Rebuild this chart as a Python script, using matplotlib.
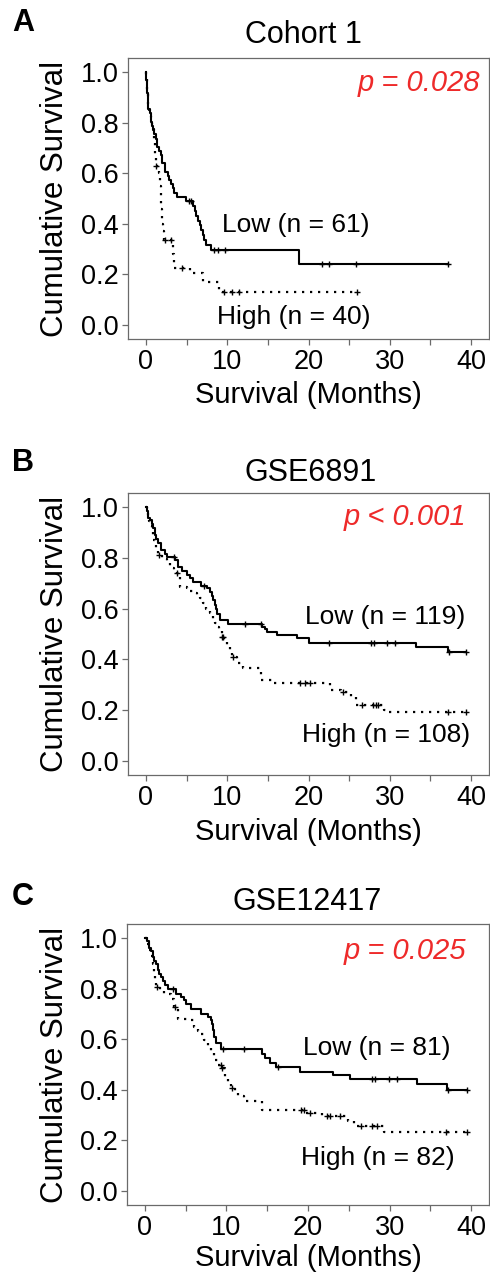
"""
Kaplan-Meier curves for three cohorts (low vs high expression groups).
"""

import numpy as np
import matplotlib
matplotlib.use("Agg")
import matplotlib.pyplot as plt

plt.rcParams['font.family'] = ['Liberation Sans', 'DejaVu Sans']

# ---- panel A : Cohort 1 ----
t_low_A = [0, 0.05, 0.1, 0.15, 0.2, 0.3, 0.45, 0.6, 0.75, 0.9, 1.0, 1.2, 1.4, 1.6, 1.8,
           2.0, 2.3, 2.75, 2.9, 3.1, 3.3, 3.5, 3.85, 4.95, 5.8, 6.0, 6.2, 6.4, 6.6,
           6.8, 7.0, 7.2, 7.4, 8.0, 18.85]
s_low_A = [1.0, 0.967, 0.934, 0.918, 0.885, 0.852, 0.836, 0.803, 0.787, 0.770, 0.754, 0.737,
           0.705, 0.688, 0.672, 0.639, 0.606, 0.589, 0.573, 0.556, 0.540, 0.523, 0.507, 0.489,
           0.470, 0.451, 0.432, 0.413, 0.394, 0.375, 0.356, 0.337, 0.318, 0.296, 0.241]
c_low_A = [5.3, 5.6, 8.4, 8.9, 9.7, 21.7, 22.5, 25.8, 37.2]

t_high_A = [0, 0.05, 0.1, 0.15, 0.2, 0.3, 0.4, 0.5, 0.65, 0.8, 0.95, 1.05, 1.1, 1.15, 1.2,
            1.6, 1.7, 1.75, 1.8, 1.85, 1.9, 1.95, 2.0, 2.1, 2.2, 3.3, 3.4, 5.4, 7.0, 9.05]
s_high_A = [1.0, 0.975, 0.95, 0.925, 0.90, 0.875, 0.85, 0.825, 0.80, 0.775, 0.75, 0.725,
            0.70, 0.675, 0.63, 0.60, 0.575, 0.55, 0.52, 0.49, 0.46, 0.43, 0.40, 0.37, 0.336,
            0.28, 0.225, 0.204, 0.171, 0.132]
c_high_A = [1.3, 2.4, 3.1, 4.5, 9.6, 10.6, 11.4, 26.0]

# ---- panel B : GSE6891 ----
t_low_B = [0, 0.1, 0.2, 0.3, 0.5, 0.7, 0.9, 1.1, 1.3, 1.5, 1.9, 2.3, 2.55, 3.6, 4.0,
           4.5, 5.0, 5.4, 5.8, 6.8, 7.5, 7.9, 8.1, 8.3, 8.45, 8.6, 8.75, 9.1, 10.1, 14.3,
           14.6, 14.9, 16.1, 18.6, 20.0, 33.2, 37.1]
s_low_B = [1.0, 0.983, 0.966, 0.958, 0.949, 0.933, 0.916, 0.891, 0.874, 0.857, 0.83, 0.815,
           0.804, 0.79, 0.765, 0.748, 0.732, 0.72, 0.706, 0.69, 0.68, 0.667, 0.65, 0.634,
           0.615, 0.597, 0.58, 0.555, 0.54, 0.526, 0.518, 0.509, 0.496, 0.483, 0.466, 0.45,
           0.43]
c_low_B = [3.4, 7.2, 12.2, 14.2, 22.5, 27.7, 28.1, 29.7, 30.7, 37.3, 39.4]

t_high_B = [0, 0.1, 0.2, 0.35, 0.5, 0.7, 0.9, 1.1, 1.3, 1.5, 2.0, 2.55, 3.0, 3.4, 3.79,
            4.2, 5.0, 5.4, 5.8, 6.26, 6.6, 7.07, 7.4, 7.9, 8.2, 8.5, 8.7, 9.0, 9.3, 9.6,
            9.96, 10.3, 10.6, 11.2, 12.0, 14.1, 15.7, 22.7, 24.0, 25.2, 25.8, 29.3, 29.7]
s_high_B = [1.0, 0.981, 0.963, 0.944, 0.926, 0.907, 0.87, 0.852, 0.833, 0.811, 0.795, 0.778,
            0.76, 0.75, 0.739, 0.686, 0.68, 0.67, 0.66, 0.65, 0.64, 0.621, 0.60, 0.581, 0.56,
            0.545, 0.529, 0.51, 0.489, 0.47, 0.45, 0.43, 0.41, 0.385, 0.365, 0.319, 0.306,
            0.28, 0.27, 0.253, 0.22, 0.20, 0.194]
c_high_B = [1.6, 3.85, 9.35, 9.5, 10.7, 19.0, 19.6, 20.2, 24.2, 26.6, 27.9, 28.3, 28.6,
            37.1, 39.4]

# ---- panel C : GSE12417 ----
t_low_C = [0, 0.2, 0.53, 0.7, 0.94, 1.1, 1.35, 1.55, 1.76, 2.0, 2.18, 2.5, 2.79, 3.8, 4.43,
           4.8, 5.05, 5.66, 6.9, 7.7, 8.1, 8.2, 8.3, 8.5, 8.7, 9.35, 14.3, 14.7, 15.3, 16.1,
           19.0, 23.1, 25.1, 33.4, 37.0]
s_low_C = [1.0, 0.988, 0.962, 0.95, 0.923, 0.91, 0.897, 0.872, 0.858, 0.845, 0.831, 0.815,
           0.80, 0.779, 0.766, 0.753, 0.74, 0.72, 0.70, 0.687, 0.675, 0.66, 0.635, 0.61,
           0.583, 0.563, 0.543, 0.524, 0.505, 0.491, 0.472, 0.459, 0.443, 0.422, 0.40]
c_low_C = [3.4, 9.6, 12.2, 16.3, 27.8, 28.2, 29.9, 30.9, 37.2, 39.5]

t_high_C = [0, 0.2, 0.5, 0.7, 0.94, 1.1, 1.2, 1.35, 1.8, 2.38, 3.2, 3.6, 4.1, 5.45, 6.07,
            6.5, 6.9, 7.3, 7.7, 8.1, 8.5, 8.9, 9.35, 9.76, 10.2, 10.6, 11.0, 11.4, 12.2,
            14.3, 19.8, 21.7, 24.9, 25.6, 29.3]
s_high_C = [1.0, 0.975, 0.951, 0.927, 0.897, 0.86, 0.83, 0.805, 0.79, 0.779, 0.76, 0.727,
            0.681, 0.675, 0.65, 0.634, 0.622, 0.598, 0.57, 0.545, 0.518, 0.50, 0.485, 0.452,
            0.43, 0.407, 0.39, 0.374, 0.354, 0.322, 0.309, 0.296, 0.276, 0.256, 0.234]
c_high_C = [1.5, 3.7, 9.3, 9.45, 10.65, 19.2, 19.5, 20.3, 22.3, 22.7, 23.9, 26.5, 27.9,
            28.5, 36.9, 39.5]

letters = ['A', 'B', 'C']
titles = ['Cohort 1', 'GSE6891', 'GSE12417']
pvals = ['p = 0.028', 'p < 0.001', 'p = 0.025']
low_labels = ['Low (n = 61)', 'Low (n = 119)', 'Low (n = 81)']
high_labels = ['High (n = 40)', 'High (n = 108)', 'High (n = 82)']

curves = [
    (t_low_A, s_low_A, c_low_A, t_high_A, s_high_A, c_high_A),
    (t_low_B, s_low_B, c_low_B, t_high_B, s_high_B, c_high_B),
    (t_low_C, s_low_C, c_low_C, t_high_C, s_high_C, c_high_C),
]

W, H = 490, 1273
fig = plt.figure(figsize=(W / 100, H / 100), dpi=100)

# axes boxes in pixels: left, top, right, bottom
boxes = [(128, 58, 489, 339), (128, 493, 489, 775), (127, 924, 489, 1205)]
title_xy = [(303, 35), (311, 473), (307, 902)]
letter_y = [23, 463, 897]
xlab_y = [395, 832, 1258]

# text anchors (data coords): p value, low label, high label
p_pos = [(41.1, 0.957), (39.4, 0.962), (39.4, 0.949)]
low_pos = [(9.4, 0.395, 'left'), (39.3, 0.568, 'right'), (19.4, 0.567, 'left')]
high_pos = [(8.7, 0.032, 'left'), (39.9, 0.102, 'right'), (19.2, 0.132, 'left')]

spine_col = '#6a6a6a'


def km_draw(ax, t, s, cens, ls, lw):
    t = np.asarray(t, float)
    s = np.asarray(s, float)
    tend = max(max(cens), t[-1])
    tt = np.append(t, tend)
    ss = np.append(s, s[-1])
    ax.step(tt, ss, where='post', color='black', linestyle=ls, linewidth=lw)
    idx = np.searchsorted(t, cens, side='right') - 1
    ax.plot(cens, s[idx], linestyle='none', marker='+', color='black',
            markersize=5, markeredgewidth=1.0)


for i in range(3):
    l, tp, r, b = boxes[i]
    ax = fig.add_axes([l / W, 1 - b / H, (r - l) / W, (b - tp) / H])
    tl, sl, cl, th, sh, ch = curves[i]
    km_draw(ax, th, sh, ch, (0, (1, 2.6)), 1.6)
    km_draw(ax, tl, sl, cl, '-', 1.5)

    ax.set_xlim(-2.2, 42.2)
    ax.set_ylim(-0.055, 1.055)
    ax.set_xticks(np.arange(0, 41, 5))
    ax.set_xticklabels([str(v) if v % 10 == 0 else '' for v in range(0, 41, 5)])
    ax.set_yticks([0, 0.2, 0.4, 0.6, 0.8, 1.0])
    ax.set_yticklabels(['0.0', '0.2', '0.4', '0.6', '0.8', '1.0'])
    ax.tick_params(direction='out', length=4, width=0.9, color=spine_col,
                   labelsize=19.5, pad=3)
    for sp in ax.spines.values():
        sp.set_color(spine_col)
        sp.set_linewidth(0.9)

    px, py = p_pos[i]
    ax.text(px, py, pvals[i], color='#ee2a2a', fontsize=21, style='italic',
            ha='right', va='center')
    lx, ly, la = low_pos[i]
    ax.text(lx, ly, low_labels[i], fontsize=19, ha=la, va='center')
    hx, hy, ha_ = high_pos[i]
    ax.text(hx, hy, high_labels[i], fontsize=19, ha=ha_, va='center')

    tx, ty = title_xy[i]
    fig.text(tx / W, 1 - ty / H, titles[i], fontsize=22, ha='center', va='center')
    fig.text(12 / W, 1 - letter_y[i] / H, letters[i], fontsize=22, fontweight='bold',
             ha='left', va='center')
    fig.text(55 / W, 1 - (tp + b) / 2 / H, 'Cumulative Survival', fontsize=22.5,
             rotation=90, ha='center', va='center')
    fig.text(308 / W, 1 - xlab_y[i] / H, 'Survival (Months)', fontsize=21,
             ha='center', va='center')

fig.savefig('out.png', dpi=100)
